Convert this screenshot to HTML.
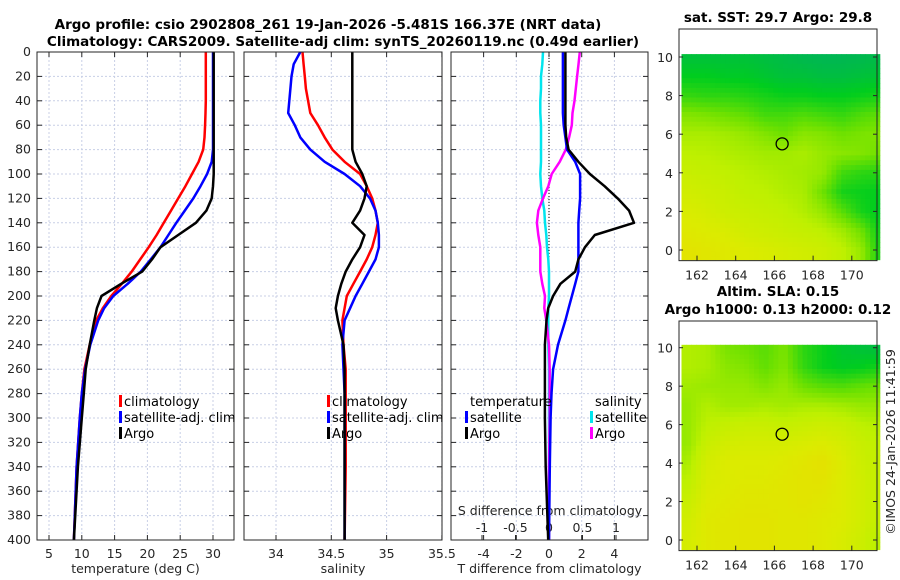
<!DOCTYPE html>
<html><head><meta charset="utf-8">
<style>
body{margin:0;background:#fff;}
svg{display:block;font-family:"DejaVu Sans","Liberation Sans",sans-serif;}
.tk{font-size:12.5px;fill:#262626;}
.ttl{font-size:13.5px;font-weight:bold;fill:#000;}
.lg{font-size:13px;fill:#000;}
</style></head>
<body>
<svg id="fig" width="900" height="580" viewBox="0 0 900 580"></svg>
<script>
// ---- data ----
const depths=[0,10,20,30,40,50,60,70,80,90,100,110,120,130,140,150,160,170,180,190,200,210,220,240,260,280,300,340,400];
const tClim=[28.9,28.9,28.9,28.9,28.9,28.85,28.8,28.7,28.5,27.8,26.8,25.8,24.7,23.6,22.5,21.4,20.2,18.9,17.6,16.1,14.5,13.2,12.2,11.2,10.4,10.0,9.7,9.2,8.8];
const tSat=[30.0,30.0,30.0,30.0,30.0,30.0,30.0,30.0,30.0,29.8,29.1,28.1,27.0,25.7,24.4,23.2,22.0,20.5,19.0,17.0,14.8,13.4,12.5,11.3,10.5,10.0,9.7,9.2,8.8];
const tArgo=[30.1,30.1,30.1,30.1,30.1,30.1,30.1,30.1,30.1,30.1,30.1,30.0,29.8,29.0,27.4,24.7,22.0,20.7,19.2,16.0,13.0,12.3,11.9,11.2,10.6,10.3,10.0,9.4,8.8];
const sClim=[34.24,34.25,34.26,34.27,34.29,34.31,34.38,34.44,34.51,34.62,34.76,34.82,34.87,34.90,34.92,34.90,34.87,34.82,34.76,34.70,34.64,34.62,34.60,34.61,34.63,34.63,34.63,34.63,34.62];
const sSat=[34.22,34.16,34.14,34.13,34.12,34.11,34.17,34.22,34.31,34.44,34.62,34.76,34.85,34.90,34.92,34.93,34.93,34.90,34.84,34.78,34.72,34.67,34.62,34.60,34.61,34.62,34.62,34.62,34.62];
const sArgo=[34.69,34.69,34.69,34.69,34.69,34.69,34.69,34.69,34.69,34.72,34.78,34.82,34.80,34.76,34.69,34.80,34.76,34.69,34.63,34.59,34.56,34.54,34.56,34.61,34.62,34.62,34.62,34.62,34.62];
const dTSat=[0.85,0.85,0.85,0.85,0.85,0.85,0.9,1.0,1.1,1.6,1.9,1.9,1.9,1.85,1.8,1.8,1.8,1.8,1.8,1.6,1.4,1.2,1.0,0.55,0.25,0.15,0.1,0.05,0.0];
const dTArgo=[1.0,1.0,1.0,1.0,1.0,1.0,1.0,1.05,1.2,1.8,2.5,3.4,4.2,4.9,5.2,2.8,2.2,1.8,1.6,0.7,0.25,-0.05,-0.15,-0.25,-0.25,-0.25,-0.25,-0.2,-0.05];
const dSSat=[-0.09,-0.1,-0.12,-0.12,-0.13,-0.13,-0.12,-0.12,-0.12,-0.12,-0.13,-0.12,-0.1,-0.07,-0.06,-0.04,-0.03,-0.01,0.0,0.0,0.0,-0.01,-0.01,-0.01,0.0,0.0,0.0,0.0,0.0];
const dSArgo=[0.46,0.44,0.42,0.40,0.38,0.35,0.34,0.30,0.25,0.16,0.04,-0.01,-0.09,-0.16,-0.18,-0.16,-0.13,-0.13,-0.13,-0.10,-0.06,-0.07,-0.04,0.0,0.01,0.01,0.01,0.0,0.0];
const depthTicks=[0,20,40,60,80,100,120,140,160,180,200,220,240,260,280,300,320,340,360,380,400];
const tTicks=[5,10,15,20,25,30];
const sTicks=[34,34.5,35,35.5];
const dtTicks=[-4,-2,0,2,4];
const dsTicks=[-1,-0.5,0,0.5,1];
const lonTicks=[162,164,166,168,170];
const latTicks=[0,2,4,6,8,10];
// map fields (rows lat 10 -> 0, cols lon 161.5 -> 171.5)
const sstField=[
[0.12,0.12,0.12,0.12,0.10,0.08,0.06,0.05,0.05,0.06,0.08],
[0.20,0.20,0.18,0.18,0.15,0.12,0.12,0.10,0.10,0.12,0.14],
[0.32,0.30,0.30,0.28,0.25,0.22,0.22,0.20,0.20,0.22,0.25],
[0.50,0.48,0.45,0.42,0.35,0.35,0.38,0.35,0.32,0.38,0.42],
[0.60,0.60,0.58,0.55,0.50,0.45,0.52,0.50,0.45,0.48,0.50],
[0.65,0.64,0.62,0.60,0.58,0.58,0.60,0.55,0.52,0.50,0.45],
[0.70,0.68,0.66,0.64,0.62,0.60,0.58,0.55,0.35,0.30,0.28],
[0.74,0.72,0.70,0.66,0.65,0.62,0.60,0.45,0.25,0.22,0.20],
[0.78,0.76,0.72,0.70,0.68,0.66,0.62,0.55,0.40,0.25,0.18],
[0.82,0.80,0.78,0.74,0.72,0.70,0.68,0.65,0.58,0.45,0.20],
[0.86,0.84,0.82,0.80,0.78,0.76,0.74,0.72,0.66,0.55,0.22]];
const slaField=[
[0.62,0.60,0.48,0.45,0.40,0.48,0.30,0.22,0.15,0.12,0.10],
[0.62,0.60,0.52,0.50,0.42,0.50,0.32,0.22,0.18,0.20,0.25],
[0.58,0.56,0.55,0.55,0.50,0.55,0.45,0.40,0.38,0.42,0.45],
[0.55,0.62,0.58,0.58,0.60,0.58,0.60,0.60,0.58,0.55,0.55],
[0.55,0.65,0.68,0.70,0.70,0.68,0.70,0.72,0.70,0.65,0.62],
[0.55,0.70,0.75,0.76,0.76,0.76,0.78,0.80,0.76,0.70,0.65],
[0.60,0.76,0.80,0.80,0.80,0.82,0.85,0.88,0.80,0.72,0.66],
[0.65,0.78,0.80,0.82,0.82,0.84,0.86,0.86,0.80,0.74,0.66],
[0.70,0.80,0.82,0.84,0.84,0.84,0.86,0.84,0.80,0.74,0.66],
[0.74,0.82,0.84,0.86,0.86,0.84,0.84,0.82,0.80,0.74,0.66],
[0.76,0.82,0.84,0.86,0.86,0.84,0.84,0.82,0.78,0.72,0.62]];
const floatLon=166.4, floatLat=5.5;

const NS='http://www.w3.org/2000/svg';
const svg=document.getElementById('fig');
function el(tag,attrs,parent){const e=document.createElementNS(NS,tag);for(const k in attrs)e.setAttribute(k,attrs[k]);(parent||svg).appendChild(e);return e;}
function txt(s,x,y,cls,anchor,parent){const t=el('text',{x:x,y:y,class:cls,'text-anchor':anchor||'middle'},parent);t.textContent=s;return t;}

const TOP=52,BOT=540;
const yD=d=>TOP+(d/400)*(BOT-TOP);
const panels=[
 {name:'temperature-panel',x0:37,x1:234,f:v=>49+(v-5)*6.56,ticks:tTicks,lab:'temperature (deg C)'},
 {name:'salinity-panel',x0:244,x1:442,f:v=>276+(v-34)*110.6,ticks:sTicks,lab:'salinity'},
 {name:'difference-panel',x0:451,x1:648,f:v=>549+v*16.35,ticks:dtTicks,lab:'T difference from climatology'}];
const xDS=v=>549+v*67;

panels.forEach((p,i)=>{
 const g=el('g',{});
 
 
 depthTicks.forEach(d=>{const l=el('line',{x1:p.x0,x2:p.x1,y1:yD(d),y2:yD(d),stroke:'#c8cfe6','stroke-dasharray':'2,2','stroke-width':1},g);});
 p.ticks.forEach(v=>{const l=el('line',{x1:p.f(v),x2:p.f(v),y1:TOP,y2:BOT,stroke:'#c8cfe6','stroke-dasharray':'2,2'},g);
   const t=txt(String(v),p.f(v),558,'tk','middle',g);
   el('line',{x1:p.f(v),x2:p.f(v),y1:BOT,y2:BOT-5,stroke:'#262626'},g);el('line',{x1:p.f(v),x2:p.f(v),y1:TOP,y2:TOP+5,stroke:'#262626'},g);});
 depthTicks.forEach(d=>{el('line',{x1:p.x0,x2:p.x0+5,y1:yD(d),y2:yD(d),stroke:'#262626'},g);el('line',{x1:p.x1,x2:p.x1-5,y1:yD(d),y2:yD(d),stroke:'#262626'},g);});
 const xl=txt(p.lab,(p.x0+p.x1)/2,573,'tk','middle',g);
});
depthTicks.forEach(d=>{const t=txt(String(d),31,yD(d)+4,'tk','end');});
dsTicks.forEach(v=>{el('line',{x1:xDS(v),x2:xDS(v),y1:BOT,y2:BOT-5,stroke:'#262626'});const t=txt(String(v),xDS(v),532,'tk','middle');});
{const t=txt('S difference from climatology',550,515,'tk','middle');t.setAttribute('font-size','13.5');}
el('line',{x1:549,x2:549,y1:TOP,y2:BOT,stroke:'#000','stroke-dasharray':'1,2'});

function line(vals,fx,color,name,w){const pts=vals.map((v,i)=>fx(v).toFixed(1)+','+yD(depths[i]).toFixed(1)).join(' ');
 const pl=el('polyline',{points:pts,fill:'none',stroke:color,'stroke-width':w||2.5,'stroke-linejoin':'round'});
 }
line(tClim,panels[0].f,'#ff0000','temp-climatology-line');
line(tSat,panels[0].f,'#0000ff','temp-satellite-line');
line(tArgo,panels[0].f,'#000000','temp-argo-line');
line(sClim,panels[1].f,'#ff0000','sal-climatology-line');
line(sSat,panels[1].f,'#0000ff','sal-satellite-line');
line(sArgo,panels[1].f,'#000000','sal-argo-line');
line(dSSat,xDS,'#00e5ee','s-diff-satellite-line');
line(dSArgo,xDS,'#ff00ff','s-diff-argo-line');
line(dTSat,panels[2].f,'#0000ff','t-diff-satellite-line');
line(dTArgo,panels[2].f,'#000000','t-diff-argo-line');

panels.forEach(p=>el('rect',{x:p.x0,y:TOP,width:p.x1-p.x0,height:BOT-TOP,fill:'none',stroke:'#262626','stroke-width':1}));

function leg(x,y,color,label,name){el('rect',{x:x,y:y-11,width:3,height:12,fill:color});const t=txt(label,x+5,y,'lg','start');}
leg(119,406,'#ff0000','climatology','legend-climatology');
leg(119,422,'#0000ff','satellite-adj. clim','legend-satellite');
leg(119,438,'#000000','Argo','legend-argo');
leg(327,406,'#ff0000','climatology','legend-climatology-2');
leg(327,422,'#0000ff','satellite-adj. clim','legend-satellite-2');
leg(327,438,'#000000','Argo','legend-argo-2');
txt('temperature',470,406,'lg','start');
leg(465,422,'#0000ff','satellite','legend-t-satellite');
leg(465,438,'#000000','Argo','legend-t-argo');
txt('salinity',595,406,'lg','start');
leg(590,422,'#00e5ee','satellite','legend-s-satellite');
leg(590,438,'#ff00ff','Argo','legend-s-argo');

{const t=txt('Argo profile: csio 2902808_261 19-Jan-2026 -5.481S 166.37E (NRT data)',328,29,'ttl');}
{const t=txt('Climatology: CARS2009. Satellite-adj clim: synTS_20260119.nc (0.49d earlier)',343,46,'ttl');}

function cmap(v){const stops=[[0,[0,175,100]],[0.2,[0,205,30]],[0.45,[110,225,0]],[0.65,[190,240,0]],[0.8,[220,235,0]],[1,[240,210,0]]];
 v=Math.max(0,Math.min(1,v));for(let i=1;i<stops.length;i++){if(v<=stops[i][0]){const a=stops[i-1],b=stops[i],t=(v-a[0])/(b[0]-a[0]);return 'rgb('+a[1].map((c,k)=>Math.round(c+(b[1][k]-c)*t)).join(',')+')';}}return 'rgb(240,210,0)';}
function sample(F,lon,lat){const c=Math.max(0,Math.min(9.999,lon-161.5)),r=Math.max(0,Math.min(9.999,10-lat));const c0=Math.floor(c),r0=Math.floor(r),fc=c-c0,fr=r-r0;
 return F[r0][c0]*(1-fc)*(1-fr)+F[r0][c0+1]*fc*(1-fr)+F[r0+1][c0]*(1-fc)*fr+F[r0+1][c0+1]*fc*fr;}
function drawMap(F,frameTop,lat10y,lat0y,name,title,titleY){
 const X0=679,X1=877,fx=l=>697+(l-162)*19.35,fy=l=>lat0y+(lat10y-lat0y)*l/10;
 const g=el('g',{});
 const step=0.25;
 for(let lat=10.15;lat>-0.5;lat-=step){for(let lon=161.2;lon<171.45;lon+=step){
   const x=fx(lon),y=fy(lat),w=fx(Math.min(lon+step,171.45))-x,h=fy(Math.max(lat-step,-0.5))-y;
   el('rect',{x:x.toFixed(1),y:y.toFixed(1),width:(w+0.5).toFixed(1),height:(h+0.5).toFixed(1),fill:cmap(sample(F,lon+step/2,lat-step/2))},g);}}
 el('rect',{x:X0,y:frameTop,width:X1-X0,height:fy(-0.5)+1-frameTop,fill:'none',stroke:'#262626'},g);
 lonTicks.forEach(l=>{el('line',{x1:fx(l),x2:fx(l),y1:fy(-0.5)+1,y2:fy(-0.5)-4,stroke:'#262626'},g);const t=txt(String(l),fx(l),fy(-0.5)+20,'tk','middle',g);});
 latTicks.forEach(l=>{el('line',{x1:X0,x2:X0+4,y1:fy(l),y2:fy(l),stroke:'#262626'},g);el('line',{x1:X1,x2:X1-4,y1:fy(l),y2:fy(l),stroke:'#262626'},g);const t=txt(String(l),673,fy(l)+5,'tk','end',g);});
 const c=el('circle',{cx:fx(floatLon),cy:fy(floatLat),r:6,fill:'none',stroke:'#000','stroke-width':1.3},g);
 title.forEach((s,i)=>{const t=txt(s,778,titleY[i],'ttl','middle');});
}
drawMap(sstField,29,57,250,'sst-map',['sat. SST: 29.7 Argo: 29.8'],[22]);
drawMap(slaField,321,347.7,540,'sla-map',['Altim. SLA: 0.15','Argo h1000: 0.13 h2000: 0.12'],[296,314]);
{const t=el('text',{x:0,y:0,class:'tk','text-anchor':'middle',transform:'translate(895,442) rotate(-90)'});t.textContent='©IMOS 24-Jan-2026 11:41:59';}
</script>
</body></html>
